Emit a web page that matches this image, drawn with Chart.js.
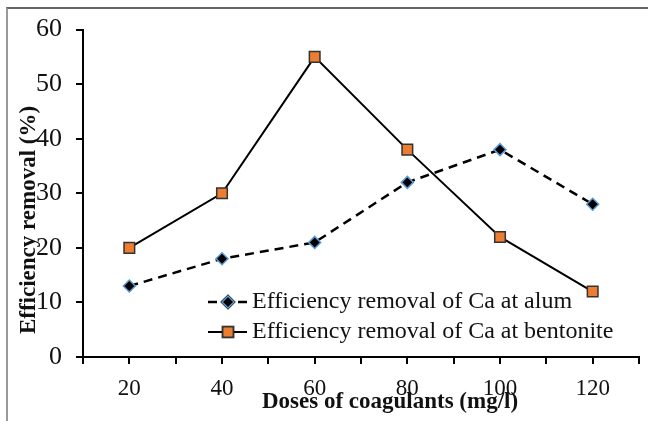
<!DOCTYPE html>
<html>
<head>
<meta charset="utf-8">
<script src="https://cdn.jsdelivr.net/npm/chart.js@4/dist/chart.umd.min.js"></script>
<style>
  html, body { margin: 0; padding: 0; background: #fff; }
  #wrap { position: relative; width: 648px; height: 421px; }
  #frame { position: absolute; left: 6px; top: 7px; right: 0; bottom: 0;
           border-top: 2px solid #666; border-left: 2px solid #999; }
  canvas { position: absolute; left: 0; top: 0; }
</style>
</head>
<body>
<div id="wrap">
  <div id="frame"></div>
  <canvas id="grafico" width="648" height="421"></canvas>
</div>
<script>
const doses = [20, 40, 60, 80, 100, 120];
const alum = [13, 18, 21, 32, 38, 28];
const bentonite = [20, 30, 55, 38, 22, 12];
const yTicks = [0, 10, 20, 30, 40, 50, 60];

const fuente = "'Liberation Serif', 'Times New Roman', serif";

// titulos de ejes y leyenda dibujados a mano, dentro del area
const extras = {
  id: "extras",
  afterDraw(chart) {
    const ctx = chart.ctx;
    ctx.save();
    ctx.fillStyle = "#111";
    ctx.font = "bold 23px " + fuente;
    ctx.textAlign = "center";
    ctx.textBaseline = "middle";
    ctx.fillText("Doses of coagulants (mg/l)", 390, 402);

    ctx.save();
    ctx.translate(29, 220);
    ctx.rotate(-Math.PI / 2);
    ctx.fillText("Efficiency removal (%)", 0, 0);
    ctx.restore();

    // leyenda
    const filas = [302, 332];
    chart.data.datasets.forEach((ds, i) => {
      const y = filas[i];
      ctx.strokeStyle = ds.borderColor;
      ctx.lineWidth = ds.borderWidth;
      ctx.setLineDash(ds.borderDash || []);
      ctx.beginPath();
      ctx.moveTo(208, y);
      ctx.lineTo(247, y);
      ctx.stroke();
      ctx.setLineDash([]);
      Chart.helpers.drawPoint(ctx, {
        pointStyle: ds.pointStyle,
        radius: ds.pointRadius,
        borderWidth: ds.pointBorderWidth,
        rotation: 0
      }, 228, y);
      ctx.fillStyle = ds.pointBackgroundColor;
      ctx.strokeStyle = ds.pointBorderColor;
      ctx.lineWidth = ds.pointBorderWidth;
      ctx.fill();
      ctx.stroke();
      ctx.fillStyle = "#111";
      ctx.font = "24px " + fuente;
      ctx.textAlign = "left";
      ctx.fillText(ds.label, 252, y);
    });
    ctx.restore();
  }
};

const ejeComun = {
  grid: { drawOnChartArea: false, drawTicks: true, tickLength: 7, color: "#000", lineWidth: 2 },
  border: { color: "#000", width: 2 }
};

new Chart(document.getElementById("grafico"), {
  type: "line",
  data: {
    datasets: [{
      label: "Efficiency removal of Ca at alum",
      data: doses.map((d, i) => ({ x: d, y: alum[i] })),
      borderColor: "#000",
      borderWidth: 2.5,
      borderDash: [9, 6],
      pointStyle: "rectRot",
      pointRadius: 6,
      pointBackgroundColor: "#000",
      pointBorderColor: "#5b9bd5",
      pointBorderWidth: 1.5
    }, {
      label: "Efficiency removal of Ca at bentonite",
      data: doses.map((d, i) => ({ x: d, y: bentonite[i] })),
      borderColor: "#000",
      borderWidth: 2,
      pointStyle: "rect",
      pointRadius: 7.5,
      pointBackgroundColor: "#ed7d31",
      pointBorderColor: "#333",
      pointBorderWidth: 1.5
    }]
  },
  options: {
    responsive: false,
    animation: false,
    devicePixelRatio: 1,
    layout: { padding: { top: 29, right: 6, left: 0, bottom: 0 } },
    plugins: { legend: { display: false }, tooltip: { enabled: false } },
    scales: {
      x: {
        ...ejeComun,
        type: "linear",
        min: 10,
        max: 130,
        afterFit: s => { s.height = 64; s.paddingLeft = 0; s.paddingRight = 0; },
        ticks: {
          stepSize: 10,
          autoSkip: false,
          maxRotation: 0,
          padding: 11,
          color: "#111",
          font: { family: fuente, size: 23 },
          callback: v => (doses.includes(v) ? v : "")
        }
      },
      y: {
        ...ejeComun,
        min: 0,
        max: 60,
        afterFit: s => { s.width = 83; },
        afterBuildTicks: s => { s.ticks = yTicks.map(v => ({ value: v })); },
        ticks: {
          padding: 14,
          color: "#111",
          font: { family: fuente, size: 26 }
        }
      }
    }
  },
  plugins: [extras]
});
</script>
</body>
</html>
